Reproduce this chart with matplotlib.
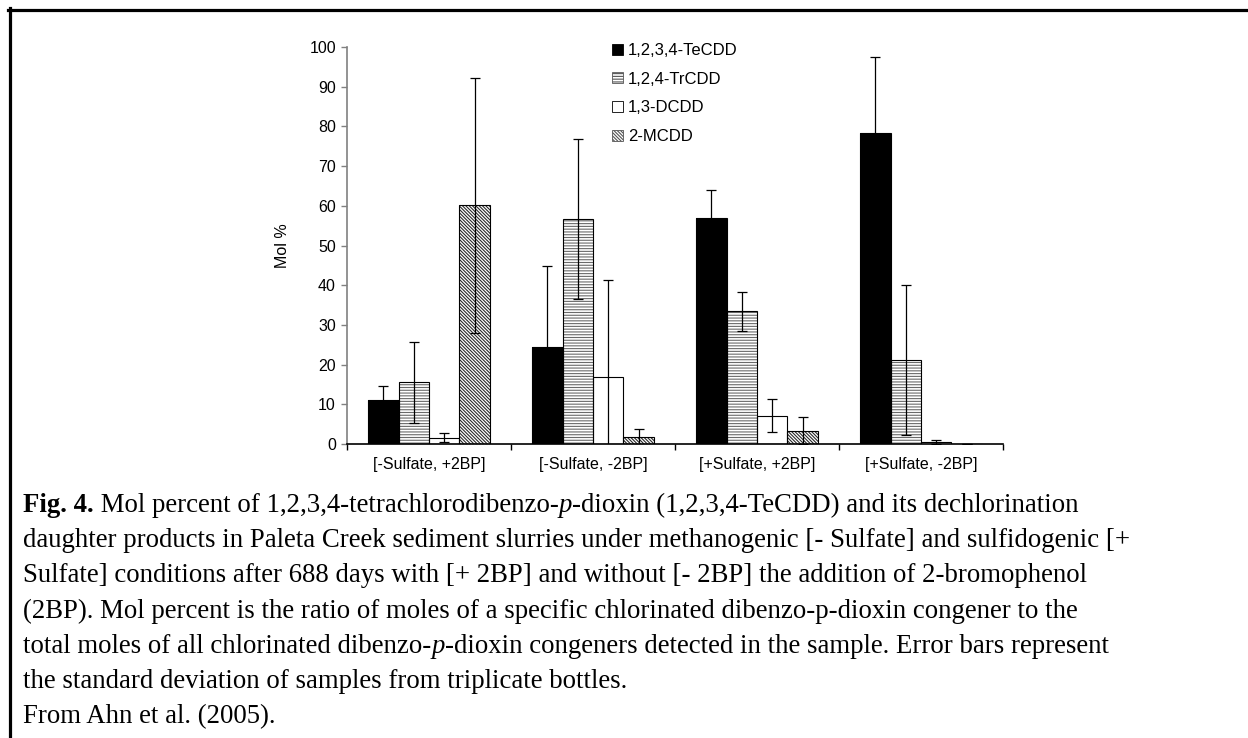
import matplotlib
matplotlib.use("Agg")
import matplotlib.pyplot as plt
import numpy as np
from matplotlib.lines import Line2D
from matplotlib.patches import Patch

W, H = 1248, 738

groups = ["[-Sulfate, +2BP]", "[-Sulfate, -2BP]", "[+Sulfate, +2BP]", "[+Sulfate, -2BP]"]
congeners = ["1,2,3,4-TeCDD", "1,2,4-TrCDD", "1,3-DCDD", "2-MCDD"]

# mol % and standard deviation per treatment
tecdd = [11.0, 24.5, 57.0, 78.4]
tecdd_sd = [3.6, 20.4, 7.0, 19.0]
trcdd = [15.5, 56.7, 33.4, 21.1]
trcdd_sd = [10.1, 20.1, 5.0, 18.9]
dcdd = [1.6, 16.9, 7.1, 0.5]
dcdd_sd = [1.2, 24.3, 4.2, 0.4]
mcdd = [60.1, 1.7, 3.4, 0.0]
mcdd_sd = [32.2, 2.0, 3.3, 0.0]

yticks = list(range(0, 101, 10))

caption = [
    [("Fig. 4.", "b"), (" Mol percent of 1,2,3,4-tetrachlorodibenzo-", "n"), ("p", "i"),
     ("-dioxin (1,2,3,4-TeCDD) and its dechlorination", "n")],
    [("daughter products in Paleta Creek sediment slurries under methanogenic [- Sulfate] and sulfidogenic [+", "n")],
    [("Sulfate] conditions after 688 days with [+ 2BP] and without [- 2BP] the addition of 2-bromophenol", "n")],
    [("(2BP). Mol percent is the ratio of moles of a specific chlorinated dibenzo-p-dioxin congener to the", "n")],
    [("total moles of all chlorinated dibenzo-", "n"), ("p", "i"),
     ("-dioxin congeners detected in the sample. Error bars represent", "n")],
    [("the standard deviation of samples from triplicate bottles.", "n")],
    [("From Ahn et al. (2005).", "n")],
]

plt.rcParams["font.family"] = ["Liberation Sans", "DejaVu Sans"]
plt.rcParams["hatch.linewidth"] = 0.8

fig = plt.figure(figsize=(W / 100, H / 100), dpi=100)
fig.patch.set_facecolor("white")
ax = fig.add_axes([347 / W, 1 - 444 / H, (1003 - 347) / W, (444 - 47) / H])

series = [tecdd, trcdd, dcdd, mcdd]
errors = [tecdd_sd, trcdd_sd, dcdd_sd, mcdd_sd]
styles = [
    dict(facecolor="black", hatch=None, hcolor="black"),
    dict(facecolor="white", hatch="------", hcolor="#6a6a6a"),
    dict(facecolor="white", hatch=None, hcolor="black"),
    dict(facecolor="white", hatch="\\" * 10, hcolor="#2a2a2a"),
]

x = np.arange(len(groups))
bw = 0.185
for i, (vals, sd, st) in enumerate(zip(series, errors, styles)):
    pos = x + (i - 1.5) * bw
    ax.bar(pos, vals, bw, color=st["facecolor"], hatch=st["hatch"],
           edgecolor=st["hcolor"], linewidth=0, zorder=2)
    ax.bar(pos, vals, bw, facecolor="none", edgecolor="black", linewidth=0.8, zorder=3)
    ax.errorbar(pos, vals, yerr=sd, fmt="none", ecolor="black", elinewidth=0.9,
                capsize=3.5, capthick=0.9, zorder=4)

ax.set_xlim(-0.5, len(groups) - 0.5)
ax.set_ylim(0, 100)
ax.set_yticks(yticks)
ax.set_ylabel("Mol %", fontsize=11.5, labelpad=14)

ax.set_xticks(x)
ax.set_xticklabels(groups, fontsize=11.5)
ax.set_xticks(np.arange(-0.5, len(groups)), minor=True)
ax.tick_params(axis="x", which="major", length=0, pad=9)
ax.tick_params(axis="x", which="minor", length=4, width=1, color="black")
ax.tick_params(axis="y", length=4, width=1, color="#808080", labelsize=11.5, pad=4)

for s in ["top", "right"]:
    ax.spines[s].set_visible(False)
ax.spines["left"].set_color("#808080")
ax.spines["left"].set_linewidth(1.2)
ax.spines["bottom"].set_color("black")
ax.spines["bottom"].set_linewidth(1.2)

handles = [Patch(facecolor=st["facecolor"], hatch=st["hatch"],
                 edgecolor="black" if st["hatch"] is None else "#555555", linewidth=0.6)
           for st in styles]
fig.legend(handles, congeners, loc="upper left", bbox_to_anchor=(612 / W, 1 - 43 / H),
           frameon=False, fontsize=12, handlelength=0.65, handleheight=0.65,
           handletextpad=0.3, labelspacing=0.82, borderpad=0, borderaxespad=0)

# caption below the chart, drawn run by run so bold / italic pieces line up
renderer = fig.canvas.get_renderer()
for row, runs in enumerate(caption):
    xp = 23
    yp = 512 + 35.2 * row
    for txt, kind in runs:
        kw = dict(family="Liberation Serif", size=19.3)
        if kind == "b":
            kw["weight"] = "bold"
        if kind == "i":
            kw["style"] = "italic"
        t = fig.text(xp / W, 1 - yp / H, txt, ha="left", va="baseline", **kw)
        xp += t.get_window_extent(renderer=renderer).width

# frame lines along the top and left edge
fig.add_artist(Line2D([8 / W, 1], [1 - 10 / H, 1 - 10 / H], color="black", linewidth=2.3,
                      transform=fig.transFigure))
fig.add_artist(Line2D([10 / W, 10 / W], [0, 1 - 8 / H], color="black", linewidth=2.3,
                      transform=fig.transFigure))

fig.savefig("out.png", dpi=100, facecolor="white")
